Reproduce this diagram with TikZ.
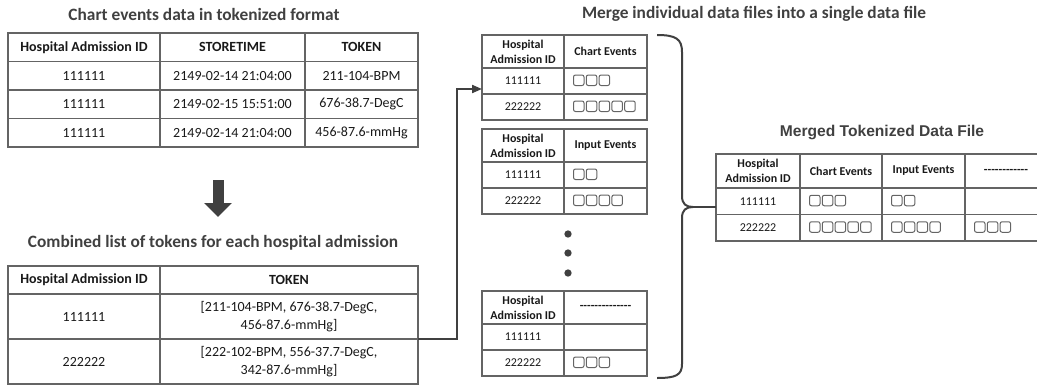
\documentclass[tikz,border=0pt]{standalone}
\usepackage{fontspec}
\setmainfont{Carlito}
\newfontfamily\arialfont{Liberation Sans}
\usetikzlibrary{arrows.meta,positioning,calc}

\definecolor{linegray}{RGB}{100,100,100}
\definecolor{darkline}{RGB}{64,64,64}
\definecolor{titlegray}{RGB}{64,64,64}
\definecolor{ink}{RGB}{25,25,25}

\newcommand{\tokenboxes}[2]{%
  \foreach \k in {1,...,#2}
    \draw[tokbox] ($(#1.west)+(12.8*\k-3.3,-6)$) rectangle ++(10.5,10.5);}

\tikzset{
  cell/.style={rectangle, draw=linegray, line width=1.1pt, outer sep=0pt, inner sep=1pt,
    align=center, text=ink, minimum height=21.375pt, font=\fontsize{10.5}{13.5}\selectfont},
  headcell/.style={cell, font=\bfseries\fontsize{10.5}{13.5}\selectfont},
  smallcell/.style={cell, minimum height=19.5pt, font=\fontsize{9}{11.25}\selectfont},
  smallhead/.style={smallcell, minimum height=24.75pt, font=\bfseries\fontsize{9}{11.25}\selectfont},
  heading/.style={font=\bfseries\fontsize{13}{15}\selectfont, text=titlegray},
  tokbox/.style={draw=linegray, line width=0.75pt, rounded corners=1.5pt},
  flow/.style={draw=darkline, line width=1.5pt, -{Triangle[length=7.5pt,width=6pt]}},
  bigarrow/.style={draw=darkline, line width=8.25pt, -{Triangle[length=10.5pt,width=20pt]}},
  brace/.style={draw=darkline, line width=1.5pt},
  dot/.style={circle, fill=darkline, inner sep=0pt, minimum size=5.5pt},
}

\begin{document}
\begin{tikzpicture}[x=0.75pt, y=-0.75pt]
\useasboundingbox (0,0) rectangle (1037,385);
\clip (0,0) rectangle (1037,385);

% chart events, one row per token
\node[heading] (title1) at (204,14) {Chart events data in tokenized format};
\node[headcell, anchor=north west, minimum width=114pt] (t1h1) at (8,33) {Hospital Admission ID};
\node[headcell, right=0pt of t1h1, minimum width=108.75pt] (t1h2) {STORETIME};
\node[headcell, right=0pt of t1h2, minimum width=84.75pt] (t1h3) {TOKEN};
\node[cell, below=0pt of t1h1, minimum width=114pt] (t1a1) {111111};
\node[cell, below=0pt of t1h2, minimum width=108.75pt] (t1a2) {2149-02-14 21:04:00};
\node[cell, below=0pt of t1h3, minimum width=84.75pt] (t1a3) {211-104-BPM};
\node[cell, below=0pt of t1a1, minimum width=114pt] (t1b1) {111111};
\node[cell, below=0pt of t1a2, minimum width=108.75pt] (t1b2) {2149-02-15 15:51:00};
\node[cell, below=0pt of t1a3, minimum width=84.75pt] (t1b3) {676-38.7-DegC};
\node[cell, below=0pt of t1b1, minimum width=114pt] (t1c1) {111111};
\node[cell, below=0pt of t1b2, minimum width=108.75pt] (t1c2) {2149-02-14 21:04:00};
\node[cell, below=0pt of t1b3, minimum width=84.75pt] (t1c3) {456-87.6-mmHg};

\coordinate (downtop) at (218,180);
\coordinate (downtip) at (218,217);
\draw[bigarrow] (downtop) -- (downtip);

% combined token lists
\node[heading] (title2) at (213,243) {Combined list of tokens for each hospital admission};
\node[headcell, anchor=north west, minimum width=114pt, minimum height=21pt] (t2h1) at (8,266) {Hospital Admission ID};
\node[headcell, right=0pt of t2h1, minimum width=193.5pt, minimum height=21pt] (t2h2) {TOKEN};
\node[cell, below=0pt of t2h1, minimum width=114pt, minimum height=33.75pt] (t2a1) {111111};
\node[cell, below=0pt of t2h2, minimum width=193.5pt, minimum height=33.75pt] (t2a2) {[211-104-BPM, 676-38.7-DegC,\\456-87.6-mmHg]};
\node[cell, below=0pt of t2a1, minimum width=114pt, minimum height=33.75pt] (t2b1) {222222};
\node[cell, below=0pt of t2a2, minimum width=193.5pt, minimum height=33.75pt] (t2b2) {[222-102-BPM, 556-37.7-DegC,\\342-87.6-mmHg]};

% individual data files
\node[heading] (title3) at (754,14) {Merge individual data files into a single data file};
\node[smallhead, anchor=north west, minimum width=61.5pt] (ah1) at (482,35) {Hospital\\Admission ID};
\node[smallhead, right=0pt of ah1, minimum width=62.25pt] (ah2) {Chart Events};
\node[smallcell, below=0pt of ah1, minimum width=61.5pt] (a11) {111111};
\node[smallcell, below=0pt of ah2, minimum width=62.25pt] (a12) {};
\node[smallcell, below=0pt of a11, minimum width=61.5pt] (a21) {222222};
\node[smallcell, below=0pt of a12, minimum width=62.25pt] (a22) {};

\node[smallhead, anchor=north west, minimum width=61.5pt] (bh1) at (482,129) {Hospital\\Admission ID};
\node[smallhead, right=0pt of bh1, minimum width=62.25pt] (bh2) {Input Events};
\node[smallcell, below=0pt of bh1, minimum width=61.5pt] (b11) {111111};
\node[smallcell, below=0pt of bh2, minimum width=62.25pt] (b12) {};
\node[smallcell, below=0pt of b11, minimum width=61.5pt] (b21) {222222};
\node[smallcell, below=0pt of b12, minimum width=62.25pt] (b22) {};

\node[dot] (dot1) at (568,234) {};
\node[dot] (dot2) at (568,253) {};
\node[dot] (dot3) at (568,273) {};

\node[smallhead, anchor=north west, minimum width=61.5pt] (ch1) at (482,291) {Hospital\\Admission ID};
\node[smallhead, right=0pt of ch1, minimum width=62.25pt] (ch2) {-{}-{}-{}-{}-{}-{}-{}-{}-{}-{}-{}-{}-{}-};
\node[smallcell, below=0pt of ch1, minimum width=61.5pt] (c11) {111111};
\node[smallcell, below=0pt of ch2, minimum width=62.25pt] (c12) {};
\node[smallcell, below=0pt of c11, minimum width=61.5pt] (c21) {222222};
\node[smallcell, below=0pt of c12, minimum width=62.25pt] (c22) {};

\tokenboxes{a12}{3}
\tokenboxes{a22}{5}
\tokenboxes{b12}{2}
\tokenboxes{b22}{4}
\tokenboxes{c22}{3}

\draw[flow] (t2a2.south east) -- ++(39,0) |- ($(a11.west)+(0,8)$);

% merged file
\node[font=\arialfont\bfseries\fontsize{11.7}{14}\selectfont, text=titlegray] (title4) at (882,132) {Merged Tokenized Data File};
\node[smallhead, anchor=north west, minimum width=63pt, minimum height=25.5pt] (mh1) at (716,154) {Hospital\\Admission ID};
\node[smallhead, right=0pt of mh1, minimum width=61.5pt, minimum height=25.5pt] (mh2) {Chart Events};
\node[smallhead, right=0pt of mh2, minimum width=62.25pt, minimum height=25.5pt] (mh3) {Input Events};
\node[smallhead, right=0pt of mh3, minimum width=61.5pt, minimum height=25.5pt] (mh4) {-{}-{}-{}-{}-{}-{}-{}-{}-{}-{}-{}-};
\node[smallcell, below=0pt of mh1, minimum width=63pt, minimum height=19.875pt] (m11) {111111};
\node[smallcell, below=0pt of mh2, minimum width=61.5pt, minimum height=19.875pt] (m12) {};
\node[smallcell, below=0pt of mh3, minimum width=62.25pt, minimum height=19.875pt] (m13) {};
\node[smallcell, below=0pt of mh4, minimum width=61.5pt, minimum height=19.875pt] (m14) {};
\node[smallcell, below=0pt of m11, minimum width=63pt, minimum height=19.875pt] (m21) {222222};
\node[smallcell, below=0pt of m12, minimum width=61.5pt, minimum height=19.875pt] (m22) {};
\node[smallcell, below=0pt of m13, minimum width=62.25pt, minimum height=19.875pt] (m23) {};
\node[smallcell, below=0pt of m14, minimum width=61.5pt, minimum height=19.875pt] (m24) {};

\tokenboxes{m12}{3}
\tokenboxes{m13}{2}
\tokenboxes{m22}{5}
\tokenboxes{m23}{4}
\tokenboxes{m24}{3}

% brace joining the files
\coordinate (btop) at (657,35);
\coordinate (btip) at (693,207);
\coordinate (bbot) at (657,378);
\draw[brace] (btop) .. controls (676,35) and (682,39) .. (682,52) -- (682,196)
  .. controls (682,204) and (686,207) .. (btip)
  .. controls (686,207) and (682,210) .. (682,218) -- (682,364)
  .. controls (682,375) and (676,378) .. (bbot);
\draw[brace] (btip) -- (btip -| m11.west);
\end{tikzpicture}
\end{document}
